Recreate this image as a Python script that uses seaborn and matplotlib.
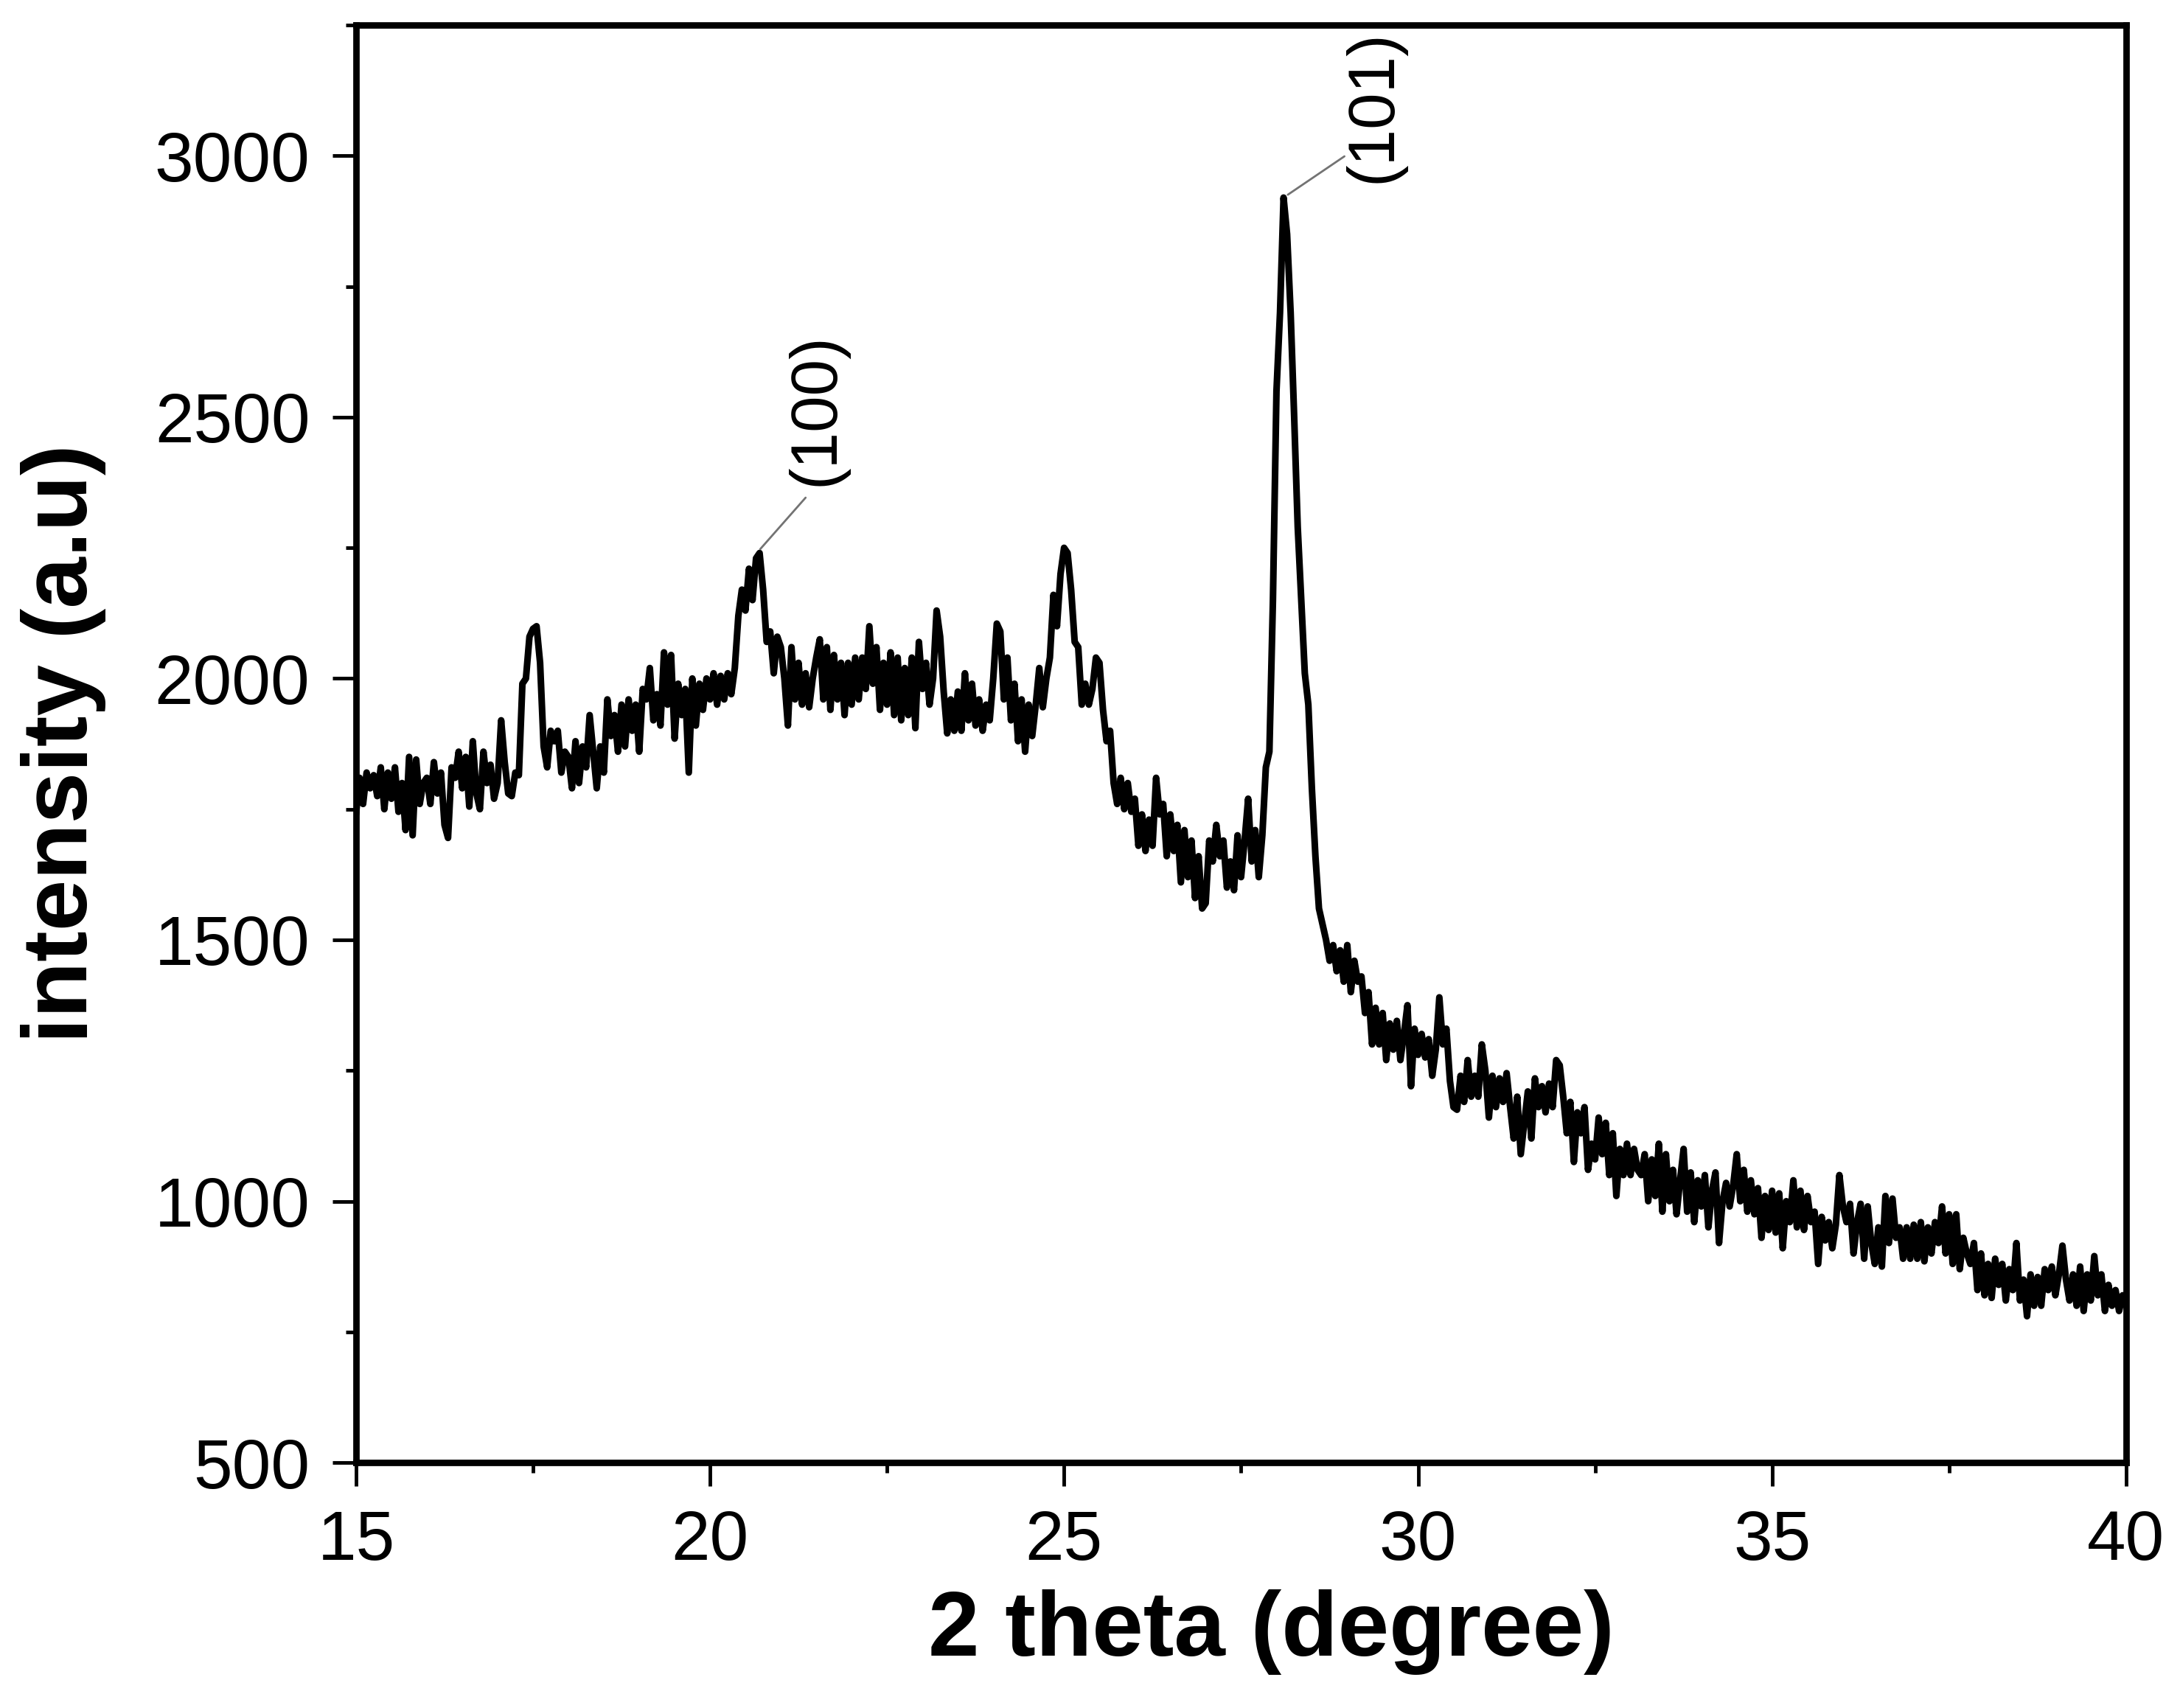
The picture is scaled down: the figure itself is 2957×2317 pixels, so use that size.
import matplotlib
matplotlib.use("Agg")
import matplotlib.pyplot as plt
from matplotlib.ticker import MultipleLocator
import numpy as np
import pandas as pd
import seaborn as sns

# XRD pattern, 0.05 degree steps from 15 to 40
intensity = (
    # 15
    [1740, 1810, 1760, 1820, 1790, 1815, 1775, 1830, 1750, 1820,
     1770, 1830, 1745, 1800, 1710, 1850, 1700, 1845, 1760, 1800]
    # 16
    + [1810, 1760, 1840, 1780, 1820, 1720, 1695, 1830, 1810, 1860,
       1790, 1850, 1755, 1880, 1780, 1750, 1860, 1800, 1835, 1770]
    # 17
    + [1800, 1920, 1840, 1780, 1775, 1820, 1815, 1990, 2000, 2080,
       2095, 2100, 2030, 1870, 1830, 1900, 1880, 1900, 1820, 1860]
    # 18
    + [1850, 1790, 1880, 1800, 1870, 1830, 1930, 1860, 1790, 1870,
       1820, 1960, 1890, 1930, 1860, 1950, 1870, 1960, 1900, 1950]
    # 19
    + [1860, 1980, 1960, 2020, 1920, 1970, 1910, 2050, 1950, 2045,
       1885, 1990, 1930, 1980, 1820, 2000, 1910, 1990, 1940, 2000]
    # 20
    + [1960, 2010, 1950, 2005, 1960, 2010, 1970, 2020, 2120, 2170,
       2130, 2210, 2150, 2230, 2240, 2170, 2070, 2090, 2010, 2080]
    # 21
    + [2060, 2000, 1910, 2060, 1960, 2030, 1950, 2010, 1945, 2000,
       2040, 2075, 1960, 2060, 1940, 2045, 1960, 2030, 1930, 2030]
    # 22
    + [1950, 2040, 1960, 2040, 1980, 2100, 1990, 2060, 1940, 2030,
       1950, 2050, 1930, 2040, 1920, 2020, 1930, 2040, 1905, 2070]
    # 23
    + [1980, 2030, 1950, 2000, 2130, 2080, 1975, 1895, 1960, 1900,
       1975, 1900, 2010, 1920, 1990, 1910, 1960, 1900, 1950, 1920]
    # 24
    + [2000, 2105, 2090, 1960, 2040, 1920, 1990, 1880, 1960, 1860,
       1950, 1890, 1950, 2020, 1945, 2000, 2040, 2160, 2100, 2200]
    # 25
    + [2250, 2240, 2170, 2070, 2060, 1950, 1990, 1950, 1980, 2040,
       2030, 1940, 1880, 1900, 1800, 1760, 1810, 1750, 1800, 1745]
    # 26
    + [1770, 1680, 1740, 1670, 1730, 1680, 1810, 1740, 1760, 1660,
       1740, 1670, 1720, 1610, 1710, 1620, 1690, 1580, 1660, 1560]
    # 27
    + [1570, 1690, 1650, 1720, 1660, 1690, 1600, 1650, 1595, 1700,
       1620, 1690, 1770, 1650, 1710, 1620, 1700, 1830, 1860, 2150]
    # 28
    + [2550, 2700, 2920, 2850, 2700, 2500, 2290, 2150, 2010, 1950,
       1790, 1660, 1560, 1530, 1500, 1460, 1490, 1440, 1480, 1420]
    # 29
    + [1490, 1400, 1460, 1420, 1430, 1360, 1400, 1300, 1370, 1300,
       1360, 1270, 1340, 1290, 1345, 1270, 1320, 1375, 1220, 1330]
    # 30
    + [1280, 1320, 1275, 1310, 1240, 1290, 1390, 1300, 1330, 1230,
       1180, 1175, 1240, 1190, 1270, 1200, 1240, 1200, 1300, 1250]
    # 31
    + [1160, 1240, 1180, 1235, 1190, 1245, 1180, 1120, 1200, 1090,
       1150, 1210, 1120, 1235, 1180, 1220, 1170, 1225, 1180, 1270]
    # 32
    + [1260, 1200, 1130, 1190, 1075, 1170, 1130, 1180, 1060, 1110,
       1080, 1160, 1090, 1150, 1050, 1130, 1010, 1100, 1050, 1110]
    # 33
    + [1050, 1100, 1060, 1050, 1090, 1000, 1080, 1010, 1110, 980,
       1090, 1000, 1060, 975, 1040, 1100, 980, 1055, 960, 1040]
    # 34
    + [990, 1050, 950, 1020, 1055, 920, 1000, 1035, 990, 1030,
       1090, 1000, 1060, 980, 1040, 975, 1025, 930, 1010, 945]
    # 35
    + [1020, 940, 1015, 910, 1000, 960, 1040, 950, 1020, 945,
       1010, 960, 980, 880, 970, 925, 960, 910, 955, 1050]
    # 36
    + [990, 960, 995, 900, 960, 995, 890, 990, 920, 880,
       950, 875, 1010, 920, 1005, 930, 950, 890, 950, 890]
    # 37
    + [955, 890, 960, 885, 950, 900, 960, 920, 990, 900,
       975, 880, 975, 870, 930, 900, 880, 920, 830, 900]
    # 38
    + [820, 880, 815, 890, 840, 880, 810, 870, 830, 920,
       810, 850, 780, 860, 800, 855, 800, 870, 830, 875]
    # 39
    + [820, 860, 915, 850, 810, 860, 800, 875, 790, 860,
       810, 895, 820, 860, 790, 840, 800, 830, 790, 820]
    # 40
    + [800]
)
two_theta = np.linspace(15, 40, len(intensity))

# peak labels
peak_labels = ["(100)", "(101)"]
peak_pos = [20.66, 28.10]

df = pd.DataFrame({"two_theta": two_theta, "intensity": intensity})

sns.set_style("ticks")
plt.rcParams['font.family'] = ['Liberation Sans', 'DejaVu Sans']
plt.rcParams.update({"text.color": "black", "axes.labelcolor": "black",
                     "xtick.color": "black", "ytick.color": "black"})

fig = plt.figure(figsize=(29.57, 23.17), dpi=100)
ax = fig.add_axes([0.1633, 0.1437, 0.812, 0.8416])

sns.lineplot(data=df, x="two_theta", y="intensity", color="black",
             linewidth=6.5, ax=ax, estimator=None, sort=False)

ax.set_xlim(15, 40)
ax.set_ylim(500, 3250)
ax.xaxis.set_major_locator(MultipleLocator(5))
ax.xaxis.set_minor_locator(MultipleLocator(2.5))
ax.yaxis.set_major_locator(MultipleLocator(500))
ax.yaxis.set_minor_locator(MultipleLocator(250))
ax.tick_params(which="major", direction="out", length=23, width=3.5,
               labelsize=68, pad=22)
ax.tick_params(which="minor", direction="out", length=10, width=3.5)
ax.tick_params(top=False, right=False, which="both")
for s in ax.spines.values():
    s.set_visible(True)
    s.set_linewidth(6.3)
    s.set_color("black")

ax.set_xlabel("2 theta (degree)", fontsize=90, fontweight="bold")
ax.set_ylabel("intensity (a.u)", fontsize=90, fontweight="bold")
ax.xaxis.set_label_coords(0.517, -0.088)
ax.yaxis.set_label_coords(-0.141, 0.5)

# leader line ends and label anchors (bottom centre of the rotated text)
line_end = [(21.35, 2346), (28.96, 2999)]
text_xy = [(21.50, 2368), (29.38, 2948)]
for lab, px, (lx, ly), (tx, ty) in zip(peak_labels, peak_pos, line_end, text_xy):
    near = np.abs(two_theta - px) <= 0.1
    py = float(np.max(np.array(intensity)[near]))
    ax.annotate("", xy=(px, py), xytext=(lx, ly), textcoords="data",
                arrowprops=dict(arrowstyle="-", color="0.45", lw=2,
                                shrinkA=0, shrinkB=5))
    ax.text(tx, ty, lab, rotation=90, ha="center", va="bottom", fontsize=64)

fig.savefig("out.png", dpi=100)
